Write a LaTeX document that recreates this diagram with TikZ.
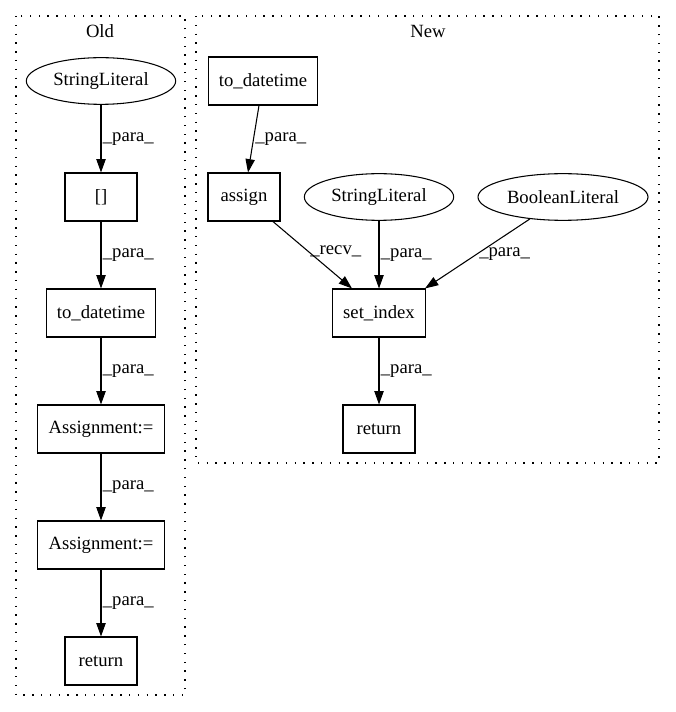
\documentclass[tikz,border=0pt]{standalone}
\usepackage{fontspec}
\setmainfont{Liberation Serif}
\usetikzlibrary{arrows.meta,shapes.geometric,calc}
\tikzset{
  op/.style={draw,line width=.8pt,minimum width=54pt,minimum height=36pt,
             inner xsep=8pt,font=\fontsize{14}{16}\selectfont},
  lit/.style={ellipse,draw,line width=.8pt,inner sep=0pt,minimum height=35pt,
              font=\fontsize{14}{16}\selectfont},
  flow/.style={-{Triangle[length=10pt,width=7pt]},line width=.8pt},
  elab/.style={right,inner sep=1pt,font=\fontsize{14}{16}\selectfont},
  cluster/.style={line width=.9pt,dash pattern=on 1pt off 5.6pt},
  ctitle/.style={font=\fontsize{14}{16}\selectfont},
}
\begin{document}
\begin{tikzpicture}[x=.75pt,y=-.75pt]
  \useasboundingbox (0,0) rectangle (675,712);
  % clusters
  \draw[cluster] (16,16) rectangle (185,695);
  \node[ctitle] (toldt) at (100,31) {Old};
  \draw[cluster] (196,16) rectangle (659,463);
  \node[ctitle] (tnewt) at (428,31) {New};
  % old
  \node[lit,minimum width=112pt] (o1) at (101,81) {StringLiteral};
  \node[op] (o2) at (101,197) {[]};
  \node[op] (o3) at (101,313) {to\_datetime};
  \node[op] (o4) at (101,429) {Assignment:=};
  \node[op] (o5) at (101,545) {Assignment:=};
  \node[op] (o6) at (101,661) {return};
  \foreach \a/\b in {o1/o2,o2/o3,o3/o4,o4/o5,o5/o6}
    \draw[flow] (\a) -- node[elab] {\_para\_} (\b);
  % new
  \node[op] (n1) at (263,81) {to\_datetime};
  \node[op] (n2) at (244,197) {assign};
  \node[lit,minimum width=112pt] (n3) at (379,197) {StringLiteral};
  \node[lit,minimum width=127.5pt] (n4) at (563,197) {BooleanLiteral};
  \node[op] (n5) at (379,313) {set\_index};
  \node[op] (n6) at (379,429) {return};
  \coordinate (n5l) at ($(n5.north)+(-27,0)$);
  \coordinate (n5r) at ($(n5.north)+(46,0)$);
  \draw[flow] (n1) -- node[elab] {\_para\_} (n2);
  \draw[flow] (n2) -- node[elab,pos=.45] {\_recv\_} (n5l);
  \draw[flow] (n3) -- node[elab] {\_para\_} (n5);
  \draw[flow] (n4) -- node[elab] {\_para\_} (n5r);
  \draw[flow] (n5) -- node[elab] {\_para\_} (n6);
\end{tikzpicture}
\end{document}
